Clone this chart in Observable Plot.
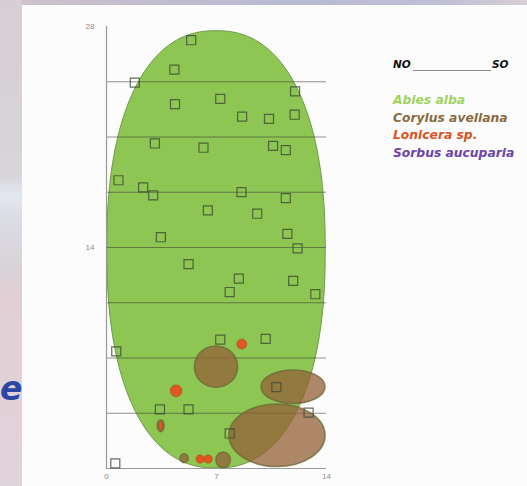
<!DOCTYPE html>
<html>
<head>
<meta charset="utf-8">
<script src="https://cdn.jsdelivr.net/npm/d3@7"></script>
<script src="https://cdn.jsdelivr.net/npm/@observablehq/plot@0.6"></script>
<style>
  html, body { margin: 0; padding: 0; }
  body { width: 527px; height: 486px; position: relative; overflow: hidden;
         background: #c9c3d0; font-family: "Liberation Sans", Arial, sans-serif; }
  #topstrip { position: absolute; left: 0; top: 0; width: 527px; height: 5px;
    background: linear-gradient(to right, #cfc4cc 0%, #c2bccd 25%, #b9bbd3 55%, #bfbfd6 85%, #d8cfd3 100%); }
  #leftstrip { position: absolute; left: 0; top: 0; width: 22px; height: 486px;
    background: linear-gradient(to bottom, #d6cfd4 0%, #d8d4d8 36%, #e3e7f2 40%, #dcdde6 44%, #d8d3d7 55%, #e0d0d6 60%, #e0d3d9 100%); }
  #panel { position: absolute; left: 22px; top: 5px; width: 505px; height: 481px; background: #fcfcfc; }
  #bige { position: absolute; left: 0px; top: 372px; font-size: 33px; font-weight: bold; font-style: italic;
    color: #2c47a3; font-family: "DejaVu Sans", sans-serif; line-height: 34px; }
  #chart { position: absolute; left: 0; top: 0; }
  .leg { position: absolute; font-family: "DejaVu Sans", sans-serif; font-weight: bold; font-style: italic; font-size: 12.3px; white-space: nowrap; line-height: 14px; }
  .ns { position: absolute; top: 58px; font-family: "DejaVu Sans", sans-serif; font-weight: bold; font-style: italic; font-size: 10.5px; color: #111; }
  #nosoline { position: absolute; left: 413px; top: 70px; width: 78px; height: 0; border-top: 1.3px solid #8a8a8a; }
</style>
</head>
<body>
<div id="topstrip"></div>
<div id="leftstrip"></div>
<div id="panel"></div>
<div id="bige">e</div>
<div id="chart"></div>
<div class="ns" style="left:393px;">NO</div>
<div id="nosoline"></div>
<div class="ns" style="left:492px;">SO</div>
<div id="legend"></div>
<script>
// ---- data ----
// Abies alba crown area (centre, radii), shape exponent
const abiesAlba = [{x: 7.0, y: 13.85, rx: 6.95, ry: 13.85, n: 2.3}];
// Corylus avellana crowns
const corylusAvellana = [
  {x: 7.0,   y: 6.42, rx: 1.38, ry: 1.31},
  {x: 11.9,  y: 5.15, rx: 2.04, ry: 1.06},
  {x: 10.88, y: 2.07, rx: 3.06, ry: 1.98},
  {x: 7.45,  y: 0.52, rx: 0.46, ry: 0.50},
  {x: 3.48,  y: 2.68, rx: 0.22, ry: 0.38},
  {x: 4.97,  y: 0.62, rx: 0.26, ry: 0.28}
];
// Lonicera sp. crowns
const loniceraSp = [
  {x: 8.64, y: 7.85, rx: 0.32, ry: 0.32},
  {x: 4.46, y: 4.89, rx: 0.38, ry: 0.38},
  {x: 3.48, y: 2.68, rx: 0.13, ry: 0.26},
  {x: 5.99, y: 0.57, rx: 0.27, ry: 0.27},
  {x: 6.50, y: 0.57, rx: 0.27, ry: 0.27}
];
// stem positions (open squares)
const stemX = [5.39,4.32,1.80,12.0,4.36,7.24,8.63,10.34,11.97,3.08,6.17,10.6,11.41,0.76,2.33,2.97,8.59,11.41,6.45,9.59,3.46,11.51,12.16,5.22,8.42,11.88,7.84,13.29,7.24,10.13,0.62,10.81,3.40,5.22,12.86,7.84,0.56];
const stemY = [27.13,25.27,24.44,23.89,23.08,23.42,22.29,22.15,22.41,20.59,20.32,20.44,20.17,18.26,17.81,17.30,17.51,17.13,16.35,16.14,14.65,14.86,13.94,12.95,12.03,11.89,11.18,11.04,8.16,8.21,7.42,5.15,3.75,3.75,3.54,2.22,0.32];
const gridY = [3.5, 7, 10.5, 14, 17.5, 21, 24.5];
const xTicks = [0, 7, 14];
const yTicks = [14, 28];
const legendNames = ["Abies alba", "Corylus avellana", "Lonicera sp.", "Sorbus aucuparia"];
const legendColors = ["#9fd35e", "#8a6a3e", "#d9531d", "#6c44a8"];

const stems = stemX.map((x, i) => ({x, y: stemY[i]}));

// custom mark: ellipses sized through the plot's own x/y scales
function crowns(data, style) {
  return (index, scales) => {
    const {x, y} = scales;
    const g = d3.create("svg:g");
    for (const d of data) {
      const cx = x(d.x), cy = y(d.y);
      const rx = Math.abs(x(d.x + d.rx) - cx), ry = Math.abs(y(d.y + d.ry) - cy);
      const n = d.n || 2;
      let el;
      if (n === 2) {
        el = g.append("ellipse").attr("cx", cx).attr("cy", cy).attr("rx", rx).attr("ry", ry);
      } else {
        const p = d3.path();
        const steps = 180;
        for (let k = 0; k <= steps; k++) {
          const t = (k / steps) * 2 * Math.PI;
          const c = Math.cos(t), s = Math.sin(t);
          const px = cx + rx * Math.sign(c) * Math.pow(Math.abs(c), 2 / n);
          const py = cy + ry * Math.sign(s) * Math.pow(Math.abs(s), 2 / n);
          if (k === 0) p.moveTo(px, py); else p.lineTo(px, py);
        }
        p.closePath();
        el = g.append("path").attr("d", p.toString());
      }
      for (const [k, v] of Object.entries(style)) el.attr(k, v);
    }
    return g.node();
  };
}

const chart = Plot.plot({
  width: 340,
  height: 486,
  marginLeft: 106,
  marginRight: 14,
  marginTop: 26,
  marginBottom: 18,
  style: {background: "transparent", fontFamily: "Liberation Sans, Arial, sans-serif", fontSize: "8px", color: "#8a8a8a", overflow: "visible"},
  x: {domain: [0, 14], ticks: xTicks, tickSize: 0, tickPadding: 5, label: null},
  y: {domain: [0, 28], ticks: yTicks, tickSize: 0, tickPadding: 12, label: null},
  marks: [
    crowns(abiesAlba, {fill: "#8dc653", stroke: "#6f9a48", "stroke-width": 1}),
    Plot.ruleY(gridY, {stroke: "#3c3c3c", strokeOpacity: 0.55, strokeWidth: 1}),
    Plot.ruleY([0], {stroke: "#9a9a9a", strokeWidth: 1.2}),
    Plot.ruleX([0], {stroke: "#9a9a9a", strokeWidth: 1.2}),
    crowns(corylusAvellana, {fill: "#945f37", "fill-opacity": 0.75, stroke: "#6b6a38", "stroke-opacity": 0.8, "stroke-width": 1.5}),
    crowns(loniceraSp, {fill: "#e0561e", stroke: "#8a4a2a", "stroke-opacity": 0.5, "stroke-width": 0.8}),
    Plot.dot(stems, {x: "x", y: "y", symbol: "square", r: 5.1, fill: "none", stroke: "#3f4a36", strokeOpacity: 0.8, strokeWidth: 1.2})
  ]
});
document.getElementById("chart").appendChild(chart);

const legend = document.getElementById("legend");
legendNames.forEach((name, i) => {
  const d = document.createElement("div");
  d.className = "leg";
  d.textContent = name;
  d.style.left = "393px";
  d.style.top = (93 + i * 17.5) + "px";
  d.style.color = legendColors[i];
  legend.appendChild(d);
});
</script>
</body>
</html>
